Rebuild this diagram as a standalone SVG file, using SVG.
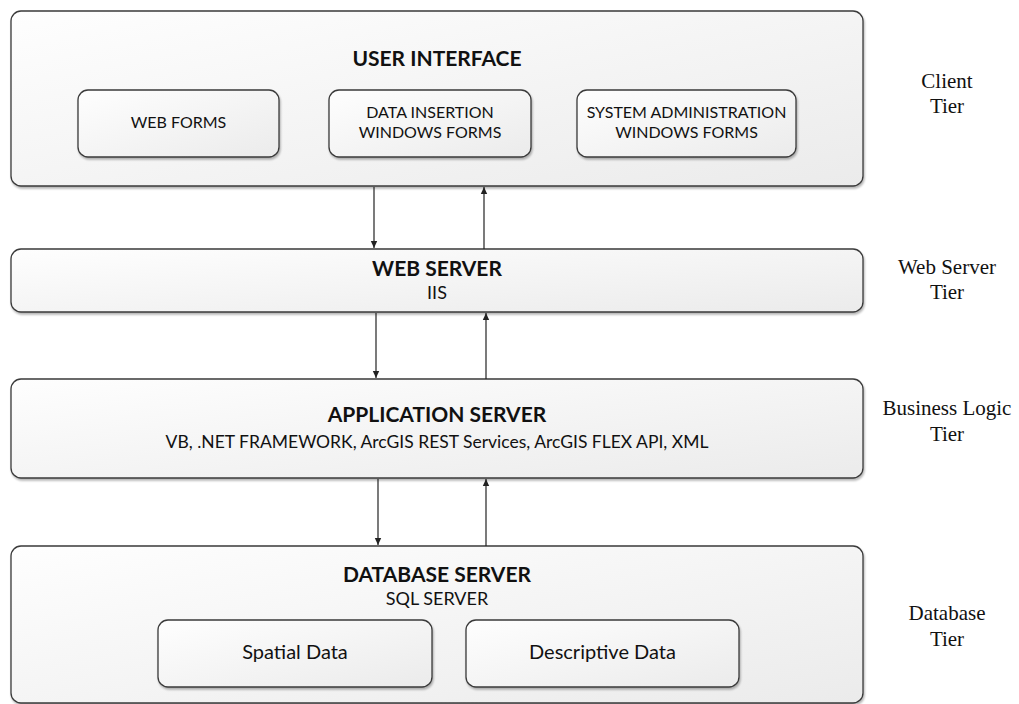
<svg xmlns="http://www.w3.org/2000/svg" width="1019" height="704" viewBox="0 0 1019 704">
<defs>
<linearGradient id="g" x1="0" y1="0" x2="1" y2="1">
<stop offset="0" stop-color="#fefefe"/>
<stop offset="1" stop-color="#ebebeb"/>
</linearGradient>
<filter id="sh" x="-5%" y="-5%" width="110%" height="115%">
<feGaussianBlur in="SourceAlpha" stdDeviation="1.2"/>
<feOffset dx="1" dy="1.5" result="b"/>
<feComponentTransfer><feFuncA type="linear" slope="0.3"/></feComponentTransfer>
<feMerge><feMergeNode/><feMergeNode in="SourceGraphic"/></feMerge>
</filter>
<marker id="ah" markerWidth="8" markerHeight="8" refX="7" refY="4" orient="auto" markerUnits="userSpaceOnUse">
<path d="M0,0.8 L7,4 L0,7.2 Z" fill="#222"/>
</marker>
</defs>
<style>
.box{fill:url(#g);stroke:#3a3a3a;stroke-width:1.3;filter:url(#sh)}
.t{font-family:Lato,"Open Sans",sans-serif;fill:#111;text-anchor:middle}
.h{font-weight:bold;font-size:21px}
.s{font-size:18px}
.sub{font-size:17.5px}
.i{font-size:16px}
.d{font-size:20px}
.tier{font-family:"Liberation Serif","Times New Roman",serif;font-size:21px;fill:#111;text-anchor:middle}
.c{stroke:#222;stroke-width:1.2;fill:none;marker-end:url(#ah)}
</style>
<rect width="1019" height="704" fill="#fff"/>

<g id="user-interface">
<rect class="box" x="11" y="11" width="852" height="175" rx="10"/>
<text class="t h" x="437" y="66">USER INTERFACE</text>
</g>
<g id="web-forms">
<rect class="box" x="78" y="90" width="201" height="67" rx="10"/>
<text class="t i" x="178.5" y="128">WEB FORMS</text>
</g>
<g id="data-insertion">
<rect class="box" x="329" y="90" width="202" height="67" rx="10"/>
<text class="t i" x="430" y="118">DATA INSERTION</text>
<text class="t i" x="430" y="138">WINDOWS FORMS</text>
</g>
<g id="system-admin">
<rect class="box" x="577" y="90" width="219" height="67" rx="10"/>
<text class="t i" x="686.5" y="118">SYSTEM ADMINISTRATION</text>
<text class="t i" x="686.5" y="138">WINDOWS FORMS</text>
</g>

<g id="web-server">
<rect class="box" x="11" y="249" width="852" height="63" rx="10"/>
<text class="t h" x="437" y="276">WEB SERVER</text>
<text class="t s" x="437" y="299">IIS</text>
</g>

<g id="application-server">
<rect class="box" x="11" y="379" width="852" height="99" rx="10"/>
<text class="t h" x="437" y="422">APPLICATION SERVER</text>
<text class="t sub" x="437" y="448">VB, .NET FRAMEWORK, ArcGIS REST Services, ArcGIS FLEX API, XML</text>
</g>

<g id="database-server">
<rect class="box" x="11" y="546" width="852" height="157" rx="10"/>
<text class="t h" x="437" y="582">DATABASE SERVER</text>
<text class="t s" x="437" y="605">SQL SERVER</text>
</g>
<g id="spatial-data">
<rect class="box" x="158" y="620" width="274" height="67" rx="10"/>
<text class="t d" x="295" y="659">Spatial Data</text>
</g>
<g id="descriptive-data">
<rect class="box" x="466" y="620" width="273" height="67" rx="10"/>
<text class="t d" x="602.5" y="659">Descriptive Data</text>
</g>

<g id="tiers">
<text class="tier" x="947" y="88">Client</text>
<text class="tier" x="947" y="113">Tier</text>
<text class="tier" x="947" y="274">Web Server</text>
<text class="tier" x="947" y="299">Tier</text>
<text class="tier" x="947" y="415">Business Logic</text>
<text class="tier" x="947" y="441">Tier</text>
<text class="tier" x="947" y="620">Database</text>
<text class="tier" x="947" y="646">Tier</text>
</g>

<g id="connectors">
<line class="c" x1="374" y1="187" x2="374" y2="248"/>
<line class="c" x1="484" y1="249" x2="484" y2="187"/>
<line class="c" x1="376" y1="313" x2="376" y2="378"/>
<line class="c" x1="486" y1="379" x2="486" y2="313"/>
<line class="c" x1="378" y1="479" x2="378" y2="545"/>
<line class="c" x1="486" y1="546" x2="486" y2="479"/>
</g>
</svg>
